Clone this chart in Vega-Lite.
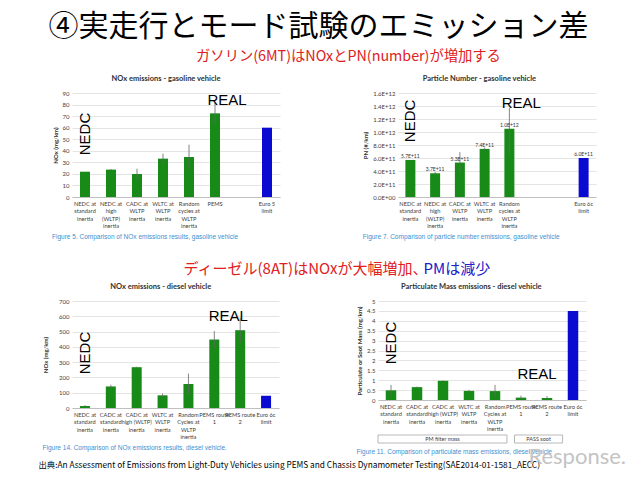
{
  "$schema": "https://vega.github.io/schema/vega-lite/v6.json",
  "background": "white",
  "padding": {"left": 38, "top": 12, "right": 4, "bottom": 2},
  "config": {
    "view": {"stroke": null},
    "font": "Lato",
    "axisX": {"domainColor": "#bfbfbf", "ticks": false, "labelAngle": 0, "labelFontSize": 5.7, "labelColor": "#404040", "labelLineHeight": 7.5, "labelPadding": 3, "labelOverlap": false, "labelBound": false, "labelLimit": 0, "grid": false},
    "axisY": {"domain": false, "ticks": false, "gridColor": "#d9d9d9", "gridWidth": 0.7, "labelFontSize": 6, "labelColor": "#404040", "labelPadding": 3, "labelBound": false, "titleFontSize": 6, "titleColor": "#303030", "titleFontWeight": "bold", "titlePadding": 4},
    "title": {"font": "Lato", "fontSize": 7.5, "fontWeight": "bold", "color": "#303030", "offset": 8, "frame": "bounds"},
    "concat": {"spacing": 10}
  },
  "title": {"text": "④実走行とモード試験のエミッション差", "font": "Noto Sans CJK JP", "fontSize": 30, "fontWeight": "normal", "color": "black", "anchor": "start", "dx": 10, "offset": 8},
  "vconcat": [
    {
      "title": {"text": "Response.", "orient": "bottom", "anchor": "end", "font": "Lato", "fontSize": 22, "fontWeight": "normal", "color": "#c4c4c4", "offset": -22, "dx": 30},
      "vconcat": [
        {
          "title": {"text": "出典:An Assessment of Emissions from Light-Duty Vehicles using PEMS and Chassis Dynamometer Testing(SAE2014-01-1581_AECC)", "orient": "bottom", "anchor": "start", "font": "Noto Sans CJK JP", "fontSize": 8.3, "fontWeight": "normal", "color": "black", "offset": 5, "dx": -4},
          "spacing": 20,
          "vconcat": [
            {
              "title": {"text": "ガソリン(6MT)はNOxとPN(number)が増加する", "anchor": "start", "dx": 144, "font": "Noto Sans CJK JP", "fontSize": 14.3, "fontWeight": "normal", "color": "#e0201c", "offset": 10},
              "spacing": 82,
              "hconcat": [
                {
                  "title": {"text": "Figure 5. Comparison of NOx emissions results, gasoline vehicle", "orient": "bottom", "anchor": "start", "font": "Liberation Sans", "fontSize": 6.5, "fontWeight": "normal", "color": "#3d8fd1", "offset": 6},
                  "vconcat": [
                    {
                      "title": "NOx emissions - gasoline vehicle",
                      "width": 208, "height": 104,
                      "data": {"values": [
                        {"cat": "NEDC at|standard|inertia", "v": 21.9, "lo": 21.9, "hi": 21.9, "k": "test"},
                        {"cat": "NEDC at|high|(WLTP)|inertia", "v": 23.7, "lo": 23.2, "hi": 24.2, "k": "test"},
                        {"cat": "CADC at|WLTP|inertia", "v": 19.9, "lo": 15.3, "hi": 24.5, "k": "test"},
                        {"cat": "WLTC at|WLTP|inertia", "v": 33.2, "lo": 28.9, "hi": 37.5, "k": "test"},
                        {"cat": "Random|cycles at|WLTP|inertia", "v": 34.6, "lo": 24.0, "hi": 45.3, "k": "test"},
                        {"cat": "PEMS", "v": 72.4, "lo": 63.5, "hi": 81.3, "k": "test"},
                        {"cat": "Euro 5|limit", "v": 60, "lo": 60, "hi": 60, "k": "limit"}
                      ]},
                      "encoding": {"x": {"field": "cat", "type": "nominal", "sort": null, "scale": {"domain": ["NEDC at|standard|inertia", "NEDC at|high|(WLTP)|inertia", "CADC at|WLTP|inertia", "WLTC at|WLTP|inertia", "Random|cycles at|WLTP|inertia", "PEMS", " ", "Euro 5|limit"], "paddingInner": 0.6, "paddingOuter": 0.3}, "axis": {"title": null, "labelExpr": "split(datum.label, '|')"}}},
                      "layer": [
                        {"mark": {"type": "bar", "size": 10}, "encoding": {"y": {"field": "v", "type": "quantitative", "scale": {"domain": [0, 90]}, "axis": {"values": [0, 10, 20, 30, 40, 50, 60, 70, 80, 90], "tickCount": 30, "labelOverlap": false, "title": "NOx (mg/km)"}}, "color": {"field": "k", "type": "nominal", "scale": {"domain": ["test", "limit"], "range": ["#178a17", "#0a0ad0"]}, "legend": null}}},
                        {"mark": {"type": "rule", "color": "#666", "strokeWidth": 0.8}, "encoding": {"y": {"field": "lo", "type": "quantitative"}, "y2": {"field": "hi"}}},
                        {"data": {"values": [{"cat": "NEDC at|standard|inertia", "v": 54.5, "t": "NEDC"}]}, "mark": {"type": "text", "angle": 270, "font": "Liberation Sans", "fontSize": 15, "color": "black"}, "encoding": {"y": {"field": "v", "type": "quantitative"}, "text": {"field": "t"}}},
                        {"data": {"values": [{"cat": "PEMS", "v": 84, "t": "REAL"}]}, "mark": {"type": "text", "dx": 12, "font": "Liberation Sans", "fontSize": 15, "color": "black"}, "encoding": {"y": {"field": "v", "type": "quantitative"}, "text": {"field": "t"}}}
                      ]
                    }
                  ]
                },
                {
                  "title": {"text": "Figure 7. Comparison of particle number emissions, gasoline vehicle", "orient": "bottom", "anchor": "start", "font": "Liberation Sans", "fontSize": 6.5, "fontWeight": "normal", "color": "#3d8fd1", "offset": 6},
                  "vconcat": [
                    {
                      "title": "Particle Number - gasoline vehicle",
                      "width": 198, "height": 104,
                      "data": {"values": [
                        {"cat": "NEDC at|standard|inertia", "v": 5.7e11, "lo": 5.7e11, "hi": 5.7e11, "k": "test", "lab": "5.7E+11"},
                        {"cat": "NEDC at|high|(WLTP)|inertia", "v": 3.65e11, "lo": 3.45e11, "hi": 3.85e11, "k": "test", "lab": "3.7E+11"},
                        {"cat": "CADC at|WLTP|inertia", "v": 5.3e11, "lo": 3.7e11, "hi": 6.9e11, "k": "test", "lab": "5.3E+11"},
                        {"cat": "WLTC at|WLTP|inertia", "v": 7.4e11, "lo": 7.2e11, "hi": 7.6e11, "k": "test", "lab": "7.4E+11"},
                        {"cat": "Random|cycles at|WLTP|inertia", "v": 1.05e12, "lo": 0.64e12, "hi": 1.37e12, "k": "test", "lab": "1.0E+12"},
                        {"cat": "Euro 6c|limit", "v": 6.0e11, "lo": 6.0e11, "hi": 6.0e11, "k": "limit", "lab": "6.0E+11"}
                      ]},
                      "encoding": {"x": {"field": "cat", "type": "nominal", "sort": null, "scale": {"domain": ["NEDC at|standard|inertia", "NEDC at|high|(WLTP)|inertia", "CADC at|WLTP|inertia", "WLTC at|WLTP|inertia", "Random|cycles at|WLTP|inertia", " ", "  ", "Euro 6c|limit"], "paddingInner": 0.6, "paddingOuter": 0.3}, "axis": {"title": null, "labelExpr": "split(datum.label, '|')"}}},
                      "layer": [
                        {"mark": {"type": "bar", "size": 10}, "encoding": {"y": {"field": "v", "type": "quantitative", "scale": {"domain": [0, 1.6e12]}, "axis": {"values": [0, 2e11, 4e11, 6e11, 8e11, 1e12, 1.2e12, 1.4e12, 1.6e12], "tickCount": 30, "labelOverlap": false, "title": "PN (#/km)", "labelExpr": "datum.value == 0 ? '0.0E+00' : replace(format(datum.value, '.1e'), 'e', 'E')"}}, "color": {"field": "k", "type": "nominal", "scale": {"domain": ["test", "limit"], "range": ["#178a17", "#0a0ad0"]}, "legend": null}}},
                        {"mark": {"type": "rule", "color": "#666", "strokeWidth": 0.8}, "encoding": {"y": {"field": "lo", "type": "quantitative"}, "y2": {"field": "hi"}}},
                        {"mark": {"type": "text", "dy": -4, "fontSize": 5, "color": "#303030"}, "encoding": {"y": {"field": "v", "type": "quantitative"}, "text": {"field": "lab"}}},
                        {"data": {"values": [{"cat": "NEDC at|standard|inertia", "v": 1.17e12, "t": "NEDC"}]}, "mark": {"type": "text", "angle": 270, "font": "Liberation Sans", "fontSize": 15, "color": "black"}, "encoding": {"y": {"field": "v", "type": "quantitative"}, "text": {"field": "t"}}},
                        {"data": {"values": [{"cat": "Random|cycles at|WLTP|inertia", "v": 1.44e12, "t": "REAL"}]}, "mark": {"type": "text", "dx": 12, "font": "Liberation Sans", "fontSize": 15, "color": "black"}, "encoding": {"y": {"field": "v", "type": "quantitative"}, "text": {"field": "t"}}}
                      ]
                    }
                  ]
                }
              ]
            },
            {
              "title": {"text": "PMは減少", "anchor": "start", "dx": 381, "font": "Noto Sans CJK JP", "fontSize": 15, "fontWeight": "normal", "color": "#2020c8", "offset": -15},
              "vconcat": [
                {
                  "title": {"text": "ディーゼル(8AT)はNOxが大幅増加、", "anchor": "start", "dx": 141, "font": "Noto Sans CJK JP", "fontSize": 15, "fontWeight": "normal", "color": "#e0201c", "offset": 6},
                  "spacing": 77,
                  "hconcat": [
                    {
                      "title": {"text": "Figure 14. Comparison of NOx emissions results, diesel vehicle.", "orient": "bottom", "anchor": "start", "font": "Liberation Sans", "fontSize": 6.5, "fontWeight": "normal", "color": "#3d8fd1", "offset": 6},
                      "vconcat": [
                        {
                          "title": "NOx emissions - diesel vehicle",
                          "width": 207, "height": 107,
                          "data": {"values": [
                            {"cat": "NEDC at|standard|inertia", "v": 13, "lo": 8, "hi": 19, "k": "test"},
                            {"cat": "CADC at|standard|inertia", "v": 141, "lo": 130, "hi": 152, "k": "test"},
                            {"cat": "CADC at|high (WLTP)|inertia", "v": 267, "lo": 264, "hi": 270, "k": "test"},
                            {"cat": "WLTC at|WLTP|inertia", "v": 83, "lo": 72, "hi": 95, "k": "test"},
                            {"cat": "Random|Cycles at|WLTP|inertia", "v": 157, "lo": 90, "hi": 225, "k": "test"},
                            {"cat": "PEMS route|1", "v": 448, "lo": 393, "hi": 503, "k": "test"},
                            {"cat": "PEMS route|2", "v": 509, "lo": 428, "hi": 590, "k": "test"},
                            {"cat": "Euro 6c|limit", "v": 80, "lo": 80, "hi": 80, "k": "limit"}
                          ]},
                          "encoding": {"x": {"field": "cat", "type": "nominal", "sort": null, "scale": {"paddingInner": 0.6, "paddingOuter": 0.3}, "axis": {"title": null, "labelExpr": "split(datum.label, '|')"}}},
                          "layer": [
                            {"mark": {"type": "bar", "size": 10}, "encoding": {"y": {"field": "v", "type": "quantitative", "scale": {"domain": [0, 700]}, "axis": {"values": [0, 100, 200, 300, 400, 500, 600, 700], "tickCount": 30, "labelOverlap": false, "titlePadding": 10, "title": "NOx (mg/km)"}}, "color": {"field": "k", "type": "nominal", "scale": {"domain": ["test", "limit"], "range": ["#178a17", "#0a0ad0"]}, "legend": null}}},
                            {"mark": {"type": "rule", "color": "#666", "strokeWidth": 0.8}, "encoding": {"y": {"field": "lo", "type": "quantitative"}, "y2": {"field": "hi"}}},
                            {"data": {"values": [{"cat": "NEDC at|standard|inertia", "v": 360, "t": "NEDC"}]}, "mark": {"type": "text", "angle": 270, "font": "Liberation Sans", "fontSize": 15, "color": "black"}, "encoding": {"y": {"field": "v", "type": "quantitative"}, "text": {"field": "t"}}},
                            {"data": {"values": [{"cat": "PEMS route|1", "v": 602, "t": "REAL"}]}, "mark": {"type": "text", "dx": 14, "font": "Liberation Sans", "fontSize": 15, "color": "black"}, "encoding": {"y": {"field": "v", "type": "quantitative"}, "text": {"field": "t"}}}
                          ]
                        }
                      ]
                    },
                    {
                      "title": {"text": "Figure 11. Comparison of particulate mass emissions, diesel vehicle", "orient": "bottom", "anchor": "start", "font": "Liberation Sans", "fontSize": 6.5, "fontWeight": "normal", "color": "#3d8fd1", "offset": 6},
                      "spacing": 2,
                      "vconcat": [
                        {
                          "title": "Particulate Mass emissions - diesel vehicle",
                          "width": 208, "height": 99,
                          "data": {"values": [
                            {"cat": "NEDC at|standard|inertia", "v": 0.49, "lo": 0.25, "hi": 0.76, "k": "test"},
                            {"cat": "CADC at|standard|inertia", "v": 0.65, "lo": 0.62, "hi": 0.68, "k": "test"},
                            {"cat": "CADC at|high (WLTP)|inertia", "v": 0.97, "lo": 0.95, "hi": 0.99, "k": "test"},
                            {"cat": "WLTC at|WLTP|inertia", "v": 0.46, "lo": 0.41, "hi": 0.51, "k": "test"},
                            {"cat": "Random|Cycles at|WLTP|inertia", "v": 0.45, "lo": 0.15, "hi": 0.76, "k": "test"},
                            {"cat": "PEMS route|1", "v": 0.12, "lo": 0.04, "hi": 0.22, "k": "test"},
                            {"cat": "PEMS route|2", "v": 0.1, "lo": 0.03, "hi": 0.2, "k": "test"},
                            {"cat": "Euro 6c|limit", "v": 4.5, "lo": 4.5, "hi": 4.5, "k": "limit"}
                          ]},
                          "encoding": {"x": {"field": "cat", "type": "nominal", "sort": null, "scale": {"paddingInner": 0.6, "paddingOuter": 0.3}, "axis": {"title": null, "labelExpr": "split(datum.label, '|')"}}},
                          "layer": [
                            {"mark": {"type": "bar", "size": 10.5}, "encoding": {"y": {"field": "v", "type": "quantitative", "scale": {"domain": [0, 5]}, "axis": {"values": [0, 0.5, 1, 1.5, 2, 2.5, 3, 3.5, 4, 4.5, 5], "tickCount": 30, "labelOverlap": false, "title": "Particulate or Soot Mass (mg/km)", "labelExpr": "format(datum.value, '~g')"}}, "color": {"field": "k", "type": "nominal", "scale": {"domain": ["test", "limit"], "range": ["#178a17", "#0a0ad0"]}, "legend": null}}},
                            {"mark": {"type": "rule", "color": "#666", "strokeWidth": 0.8}, "encoding": {"y": {"field": "lo", "type": "quantitative"}, "y2": {"field": "hi"}}},
                            {"data": {"values": [{"cat": "NEDC at|standard|inertia", "v": 2.88, "t": "NEDC"}]}, "mark": {"type": "text", "angle": 270, "font": "Liberation Sans", "fontSize": 15, "color": "black"}, "encoding": {"y": {"field": "v", "type": "quantitative"}, "text": {"field": "t"}}},
                            {"data": {"values": [{"cat": "PEMS route|1", "v": 1.31, "t": "REAL"}]}, "mark": {"type": "text", "dx": 16, "font": "Liberation Sans", "fontSize": 15, "color": "black"}, "encoding": {"y": {"field": "v", "type": "quantitative"}, "text": {"field": "t"}}}
                          ]
                        },
                        {
                          "width": 208, "height": 8,
                          "data": {"values": [
                            {"a": 0.0, "b": 4.96, "m": 2.48, "t": "PM filter mass"},
                            {"a": 5.25, "b": 7.1, "m": 6.175, "t": "PASS soot"}
                          ]},
                          "encoding": {"x": {"field": "a", "type": "quantitative", "scale": {"domain": [0, 8]}, "axis": null}},
                          "layer": [
                            {"mark": {"type": "rect", "fill": "white", "stroke": "#a6a6a6", "strokeWidth": 0.8}, "encoding": {"x2": {"field": "b"}}},
                            {"mark": {"type": "text", "fontSize": 5.5, "color": "#404040"}, "encoding": {"x": {"field": "m", "type": "quantitative"}, "text": {"field": "t"}}}
                          ]
                        }
                      ]
                    }
                  ]
                }
              ]
            }
          ]
        }
      ]
    }
  ]
}
